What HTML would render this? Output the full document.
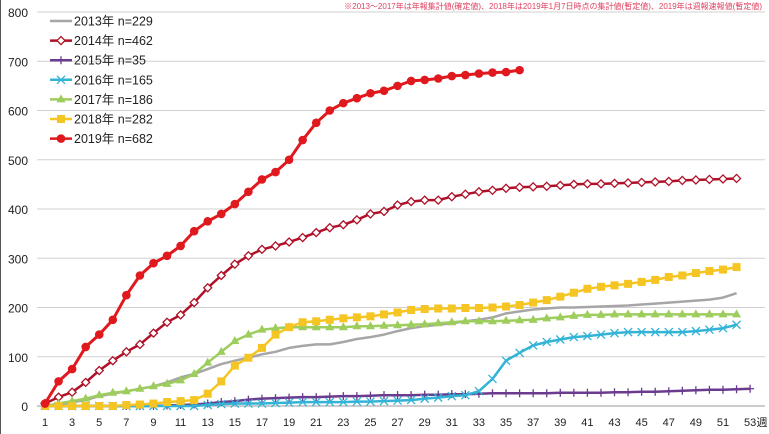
<!DOCTYPE html>
<html><head><meta charset="utf-8"><style>
body{margin:0;background:#fff;width:769px;height:434px;overflow:hidden}
svg{display:block;font-family:"Liberation Sans","Noto Sans CJK JP",sans-serif}
</style></head><body>
<svg id="c" width="769" height="434" xmlns="http://www.w3.org/2000/svg">
<rect x="0" y="0" width="769" height="434" fill="#fff"/>
<line x1="0.5" y1="0" x2="0.5" y2="434" stroke="#555"/>
<text x="762" y="9" font-size="8" fill="#e04060" text-anchor="end">※2013～2017年は年報集計値(確定値)、2018年は2019年1月7日時点の集計値(暫定値)、2019年は週報速報値(暫定値)</text>
</svg>
<script>
var s=document.getElementById('c'),NS='http://www.w3.org/2000/svg';
function el(t,a,txt){var e=document.createElementNS(NS,t);for(var k in a)e.setAttribute(k,a[k]);if(txt!==undefined)e.textContent=txt;s.appendChild(e);return e;}
function X(w){return 45+(w-1)*13.56;}
function Y(v){return 406-v*0.4925;}
for(var v=0;v<=800;v+=100){var y=Y(v);if(v>0)el('line',{x1:37,x2:765,y1:y,y2:y,stroke:'#d0d0d0','stroke-width':1});el('text',{x:28,y:y+5,'font-size':12,'text-anchor':'end',fill:'#222'},v);}
el('line',{x1:37,x2:765,y1:406,y2:406,stroke:'#999'});
for(var w=1;w<=53;w+=2){el('text',{x:X(w),y:426,'font-size':11,'text-anchor':'middle',fill:'#222'},w);}
el('text',{x:762,y:426,'font-size':11,'text-anchor':'middle',fill:'#222'},'週');
var D={
a:[0,3,8,12,20,25,30,35,40,48,58,65,75,85,92,98,105,110,118,122,125,125,130,136,140,145,152,158,162,165,168,172,175,180,188,192,196,198,200,200,201,202,203,204,206,208,210,212,214,216,220,229],
b:[5,18,28,48,72,92,110,125,148,170,185,210,240,265,288,305,318,325,333,342,352,362,368,378,390,395,408,415,418,418,425,430,435,438,442,444,445,446,448,450,451,451,452,453,454,455,456,458,459,460,461,462],
c:[0,0,0,0,0,0,0,0,0,1,2,3,5,8,10,13,15,16,17,18,18,19,20,20,21,22,22,22,23,23,24,24,25,26,26,26,26,26,27,27,27,27,28,28,29,29,30,31,32,33,33,34,35],
d:[0,0,0,0,0,0,0,0,0,0,0,0,2,4,5,5,5,6,7,8,8,8,8,9,9,10,11,12,15,17,20,22,30,55,92,108,123,130,135,140,142,145,148,150,150,150,150,150,152,155,158,165],
e:[0,5,10,15,22,27,30,35,40,45,52,65,88,110,132,145,155,158,160,160,160,160,160,162,162,163,164,165,166,168,170,172,172,172,173,174,175,178,180,183,185,185,186,186,186,186,186,186,186,186,186,186],
f:[0,0,0,0,0,0,2,3,5,8,10,12,25,50,82,98,118,145,160,170,172,175,178,180,182,186,190,195,197,198,198,199,199,200,202,205,210,215,222,230,238,242,245,248,252,256,262,265,270,274,277,282],
g:[5,50,75,120,145,175,225,265,290,305,325,355,375,390,410,435,460,475,500,540,575,600,615,625,635,640,650,660,662,665,670,672,675,677,678,682]};
var S=[['a','#a6a6a6','none','2013年 n=229'],['b','#b01028','dia','2014年 n=462'],['c','#6b3b8f','plus','2015年 n=35'],['d','#33b3d6','x','2016年 n=165'],['e','#9dcd5c','tri','2017年 n=186'],['f','#f5c523','sq','2018年 n=282'],['g','#e0191e','circ','2019年 n=682']];
function mk(t,x,y,c){
if(t=='dia')el('path',{d:'M'+x+','+(y-4)+'L'+(x+4)+','+y+'L'+x+','+(y+4)+'L'+(x-4)+','+y+'Z',fill:'#fff',stroke:c,'stroke-width':1.3});
else if(t=='plus')el('path',{d:'M'+(x-4)+','+y+'H'+(x+4)+'M'+x+','+(y-4)+'V'+(y+4),stroke:c,'stroke-width':1.3});
else if(t=='x')el('path',{d:'M'+(x-4)+','+(y-4)+'L'+(x+4)+','+(y+4)+'M'+(x+4)+','+(y-4)+'L'+(x-4)+','+(y+4),stroke:c,'stroke-width':1.3});
else if(t=='tri')el('path',{d:'M'+x+','+(y-5)+'L'+(x+4.5)+','+(y+3)+'L'+(x-4.5)+','+(y+3)+'Z',fill:c});
else if(t=='sq')el('rect',{x:x-4,y:y-4,width:8,height:8,fill:c});
else if(t=='circ')el('circle',{cx:x,cy:y,r:4.3,fill:c});
}
S.forEach(function(q,i){var d=D[q[0]],p='';d.forEach(function(v,j){p+=(j?'L':'M')+X(j+1).toFixed(1)+','+Y(v).toFixed(1);});
el('path',{d:p,fill:'none',stroke:q[1],'stroke-width':q[0]=='g'?3:2.5,'stroke-linejoin':'round'});
d.forEach(function(v,j){mk(q[2],X(j+1),Y(v),q[1]);});
var ly=21+i*19.6;el('line',{x1:50,x2:72,y1:ly,y2:ly,stroke:q[1],'stroke-width':2.5});mk(q[2],61,ly,q[1]);
el('text',{x:74,y:ly+4.5,'font-size':12.5,fill:'#222'},q[3]);});
</script>
</body></html>
